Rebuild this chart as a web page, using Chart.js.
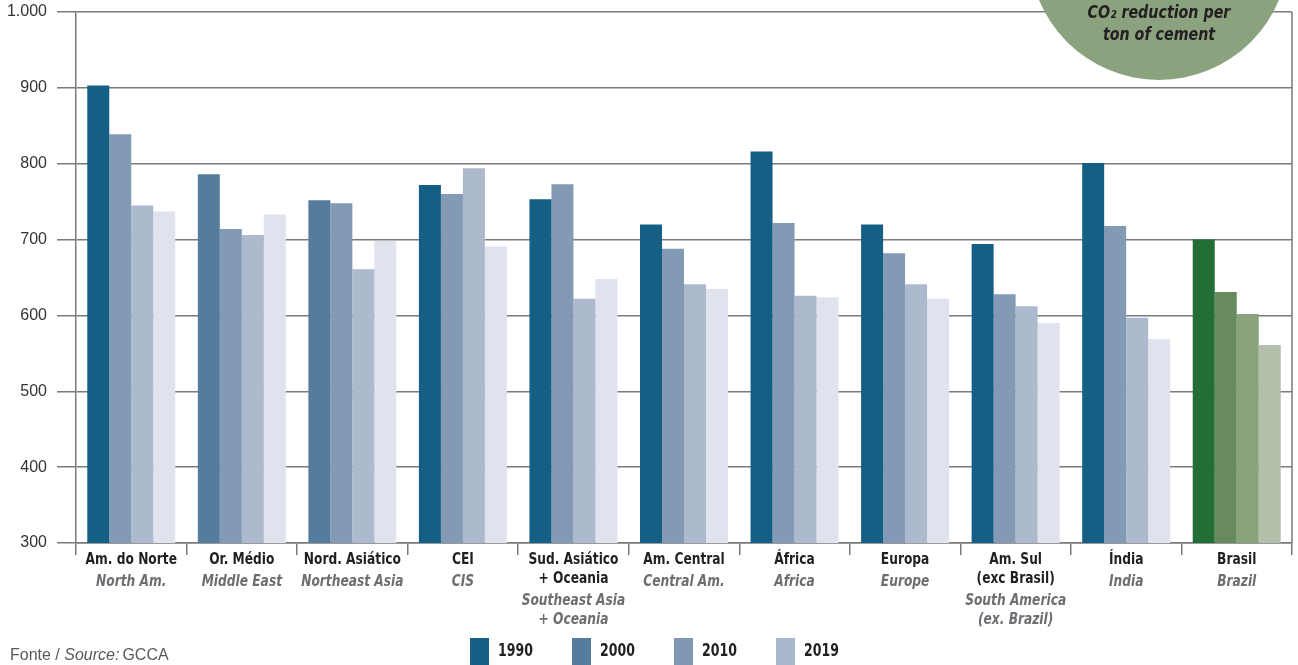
<!DOCTYPE html>
<html>
<head>
<meta charset="utf-8">
<script src="https://cdn.jsdelivr.net/npm/chart.js@4.4.1/dist/chart.umd.min.js"></script>
<style>
    body { margin: 0; background: #fff; }
    #wrap { width: 1298px; height: 665px; position: relative; }
</style>
</head>
<body>
<div id="wrap"><canvas id="co2Chart"></canvas></div>
<script>
// Region names (Portuguese, then English), one entry per line
const regionsPt = [['Am. do Norte'], ['Or. Médio'], ['Nord. Asiático'], ['CEI'], ['Sud. Asiático', '+ Oceania'],
    ['Am. Central'], ['África'], ['Europa'], ['Am. Sul', '(exc Brasil)'], ['Índia'], ['Brasil']];
const regionsEn = [['North Am.'], ['Middle East'], ['Northeast Asia'], ['CIS'], ['Southeast Asia', '+ Oceania'],
    ['Central Am.'], ['Africa'], ['Europe'], ['South America', '(ex. Brazil)'], ['India'], ['Brazil']];
const years = ['1990', '2000', '2010', '2019'];

// kg CO2 per ton of cement, one array per bar position in each group
const values1990 = [903, 786, 752, 772, 753, 720, 816, 720, 694, 801, 700];
const values2000 = [839, 714, 748, 760, 773, 688, 722, 682, 628, 718, 631];
const values2010 = [745, 706, 661, 794, 622, 641, 626, 641, 612, 597, 602];
const values2019 = [737, 733, 698, 691, 648, 635, 624, 622, 590, 569, 561];
const seriesValues = [values1990, values2000, values2010, values2019];

const yMin = 300;
const yMax = 1000;
const yStep = 100;

// Colours
const legendColors = ['#155e84', '#557c9c', '#7f97b3', '#a9b8cc'];
const blueShades = ['#155e84', '#839ab4', '#adbacd', '#e0e3ed'];
const greenShades = ['#236e37', '#678a5e', '#89a37c', '#b3bfaa'];
const firstBarOverride = { 1: '#557c9c', 2: '#557c9c' };   // Or. Médio, Nord. Asiático
const gridColor = '#7a7a7a';
const condensed = "'DejaVu Sans Condensed', 'DejaVu Sans', sans-serif";

// Format number with a dot as thousands separator
function formatThousands(value) {
    return String(value).replace(/\B(?=(\d{3})+(?!\d))/g, '.');
}

function barColors(pos) {
    return regionsPt.map((r, i) => {
        if (r[0] === 'Brasil') return greenShades[pos];
        if (pos === 0 && firstBarOverride[i]) return firstBarOverride[i];
        return blueShades[pos];
    });
}

// draw text squeezed horizontally (the original uses a condensed face)
function fillNarrow(ctx, text, x, y, squeeze) {
    ctx.save();
    ctx.translate(x, y);
    ctx.scale(squeeze, 1);
    ctx.fillText(text, 0, 0);
    ctx.restore();
}

const decorations = {
    id: 'decorations',
    afterDraw(chart) {
        const ctx = chart.ctx;
        const xScale = chart.scales.x;
        const area = chart.chartArea;
        ctx.save();

        // right border of the plot box
        ctx.strokeStyle = gridColor;
        ctx.lineWidth = 1.5;
        ctx.beginPath();
        ctx.moveTo(area.right, area.top);
        ctx.lineTo(area.right, area.bottom);
        ctx.stroke();

        // two-language category labels
        ctx.textAlign = 'center';
        ctx.textBaseline = 'middle';
        regionsPt.forEach((lines, i) => {
            const cx = xScale.getPixelForValue(i);
            let y = area.bottom + 17;
            ctx.font = 'bold 16px ' + condensed;
            ctx.fillStyle = '#231f20';
            lines.forEach(t => { fillNarrow(ctx, t, cx, y, 0.85); y += 19; });
            y += 3;
            ctx.font = 'italic bold 16px ' + condensed;
            ctx.fillStyle = '#6d6e71';
            regionsEn[i].forEach(t => { fillNarrow(ctx, t, cx, y, 0.85); y += 19; });
        });

        // legend
        ctx.textAlign = 'left';
        years.forEach((yr, i) => {
            const lx = 470 + i * 102;
            ctx.fillStyle = legendColors[i];
            ctx.fillRect(lx, 638, 19, 27);
            ctx.fillStyle = '#231f20';
            ctx.font = 'bold 17px ' + condensed;
            fillNarrow(ctx, yr, lx + 28, 652, 0.82);
        });

        // source
        ctx.fillStyle = '#58595b';
        let sx = 10;
        const sy = 656;
        ctx.font = '16px ' + "'Liberation Sans', sans-serif";
        ctx.fillText('Fonte / ', sx, sy);
        sx += ctx.measureText('Fonte / ').width;
        ctx.font = 'italic 16px ' + "'Liberation Sans', sans-serif";
        ctx.fillText('Source:', sx, sy);
        sx += ctx.measureText('Source:').width + 3;
        ctx.font = '16px ' + "'Liberation Sans', sans-serif";
        ctx.fillText('GCCA', sx, sy);

        // green badge in the top right corner
        ctx.fillStyle = '#8aa37e';
        ctx.beginPath();
        ctx.arc(1159, -50, 130, 0, Math.PI * 2);
        ctx.fill();
        ctx.fillStyle = '#231f20';
        ctx.textAlign = 'center';
        ctx.font = 'italic bold 18px ' + condensed;
        fillNarrow(ctx, 'CO₂ reduction per', 1159, 13, 0.88);
        fillNarrow(ctx, 'ton of cement', 1159, 35, 0.88);

        ctx.restore();
    }
};

const ctx = document.getElementById('co2Chart').getContext('2d');
new Chart(ctx, {
    type: 'bar',
    data: {
        labels: regionsPt.map(r => r.join(' ')),
        datasets: years.map((yr, i) => ({
            label: yr,
            data: seriesValues[i],
            backgroundColor: barColors(i),
            borderWidth: 0,
            categoryPercentage: 0.796,
            barPercentage: 1.0
        }))
    },
    options: {
        responsive: true,
        maintainAspectRatio: false,
        animation: false,
        layout: {
            padding: { top: 12, right: 6, left: 0, bottom: 0 }
        },
        plugins: {
            legend: { display: false },
            tooltip: { enabled: false }
        },
        scales: {
            x: {
                afterFit: function(scale) { scale.height = 122; },
                ticks: { display: false },
                grid: {
                    offset: true,
                    drawOnChartArea: false,
                    drawTicks: true,
                    tickLength: 12,
                    color: gridColor,
                    lineWidth: 1.5
                },
                border: { display: true, color: gridColor, width: 1.5 }
            },
            y: {
                min: yMin,
                max: yMax,
                afterFit: function(scale) {
                    scale.width = 76;
                    scale.paddingTop = 0;
                    scale.paddingBottom = 0;
                },
                ticks: {
                    stepSize: yStep,
                    padding: 10,
                    color: '#333',
                    font: { family: "'Liberation Sans', sans-serif", size: 16 },
                    callback: function(value) { return formatThousands(value); }
                },
                grid: {
                    color: gridColor,
                    lineWidth: 1.5,
                    tickLength: 19
                },
                border: { display: true, color: gridColor, width: 1.5 }
            }
        }
    },
    plugins: [decorations]
});
</script>
</body>
</html>
